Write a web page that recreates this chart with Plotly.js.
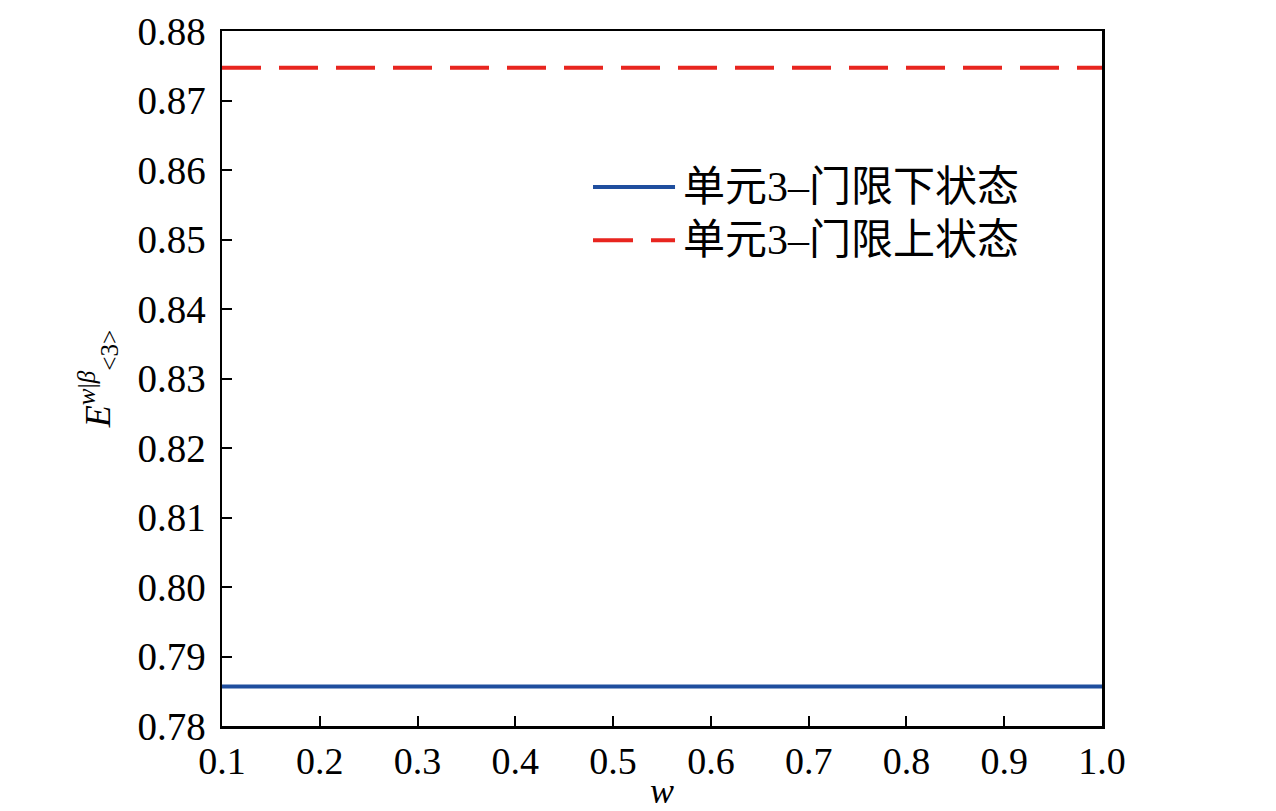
<!DOCTYPE html>
<html>
<head>
<meta charset="utf-8">
<script src="https://cdn.plot.ly/plotly-3.0.1.min.js"></script>
<style>html,body{margin:0;padding:0;background:#fff;}#chart{width:1276px;height:811px;}</style>
</head>
<body>
<div id="chart"></div>
<script>
const wValues = [0.1, 1.0];
const lowerState = [0.7857, 0.7857];
const upperState = [0.8747, 0.8747];
const seriesNames = ['单元3–门限下状态', '单元3–门限上状态'];
const xTicks = [0.1,0.2,0.3,0.4,0.5,0.6,0.7,0.8,0.9,1.0];
const xTickText = ['0.1','0.2','0.3','0.4','0.5','0.6','0.7','0.8','0.9','1.0'];
const yTicks = [0.78,0.79,0.80,0.81,0.82,0.83,0.84,0.85,0.86,0.87,0.88];
const yTickText = ['0.78','0.79','0.80','0.81','0.82','0.83','0.84','0.85','0.86','0.87','0.88'];

const font = 'Liberation Serif, Noto Sans CJK SC, serif';
const blue = '#1f4e9e';
const red = '#e8251f';

const traces = [
  {x: wValues, y: lowerState, mode: 'lines', name: seriesNames[0], line: {color: blue, width: 4}},
  {x: wValues, y: upperState, mode: 'lines', name: seriesNames[1], line: {color: red, width: 4, dash: '39px,18px'}}
];

const legendY = [0.7755, 0.699];
const shapes = [
  {type:'line', xref:'paper', yref:'paper', x0:0.4216, x1:0.5148, y0:legendY[0], y1:legendY[0], line:{color:blue, width:4}},
  {type:'line', xref:'paper', yref:'paper', x0:0.4216, x1:0.5148, y0:legendY[1], y1:legendY[1], line:{color:red, width:4, dash:'40px,18px'}}
];
const annotations = seriesNames.map((t,i)=>({
  text: t, xref:'paper', yref:'paper', x:0.5215, y:legendY[i], xanchor:'left', yanchor:'middle',
  showarrow:false, font:{family: font, size: 42, color:'#000'}
}));

const layout = {
  width: 1276, height: 811,
  margin: {l: 222, r: 174, t: 31, b: 85},
  paper_bgcolor: '#fff', plot_bgcolor: '#fff',
  showlegend: false,
  font: {family: font, color: '#000'},
  xaxis: {
    range: [0.1, 1.0], tickvals: xTicks, ticktext: xTickText,
    ticks: 'inside', ticklen: 10, tickwidth: 2, tickcolor: '#000',
    showline: true, linewidth: 2.5, linecolor: '#000', mirror: true,
    showgrid: false, zeroline: false,
    tickfont: {family: font, size: 38, color: '#000'},
    title: {text: '<i>w</i>', font: {family: font, size: 36, color: '#000'}, standoff: 0}
  },
  yaxis: {
    range: [0.78, 0.88], tickvals: yTicks, ticktext: yTickText,
    ticks: 'inside', ticklen: 10, tickwidth: 2, tickcolor: '#000',
    showline: true, linewidth: 2.5, linecolor: '#000', mirror: true,
    showgrid: false, zeroline: false, ticklabelstandoff: 6,
    tickfont: {family: font, size: 39, color: '#000'},
    title: {text: '<i>E</i><sup><i>w</i>|<i>β</i></sup><sub>&lt;3&gt;</sub>', font: {family: font, size: 36, color: '#000'}, standoff: 16}
  },
  shapes: shapes,
  annotations: annotations
};

Plotly.newPlot('chart', traces, layout, {displayModeBar: false, staticPlot: true});
</script>
</body>
</html>
